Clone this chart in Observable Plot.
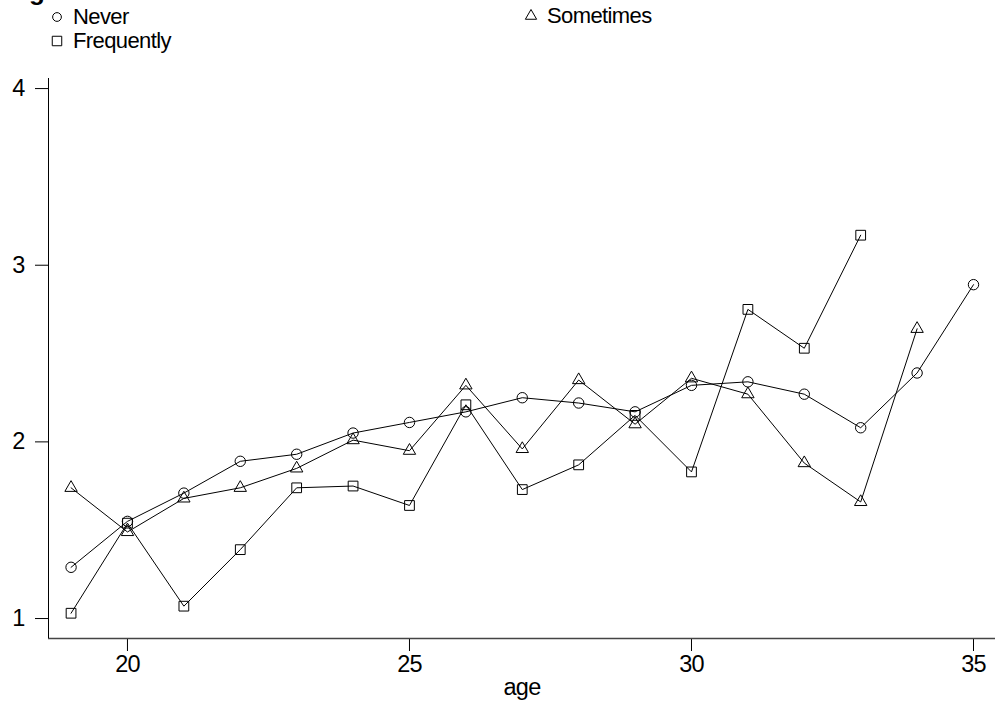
<!DOCTYPE html>
<html>
<head>
<meta charset="utf-8">
<script src="https://cdn.jsdelivr.net/npm/d3@7"></script>
<script src="https://cdn.jsdelivr.net/npm/@observablehq/plot@0.6"></script>
<style>
  html, body { margin: 0; padding: 0; background: #fff; overflow: hidden; }
  body { width: 995px; height: 706px; font-family: "Liberation Sans", Arial, sans-serif; }
  #head { position: relative; height: 50px; width: 995px; }
  #head .title { position: absolute; left: 29px; top: -22px; font-size: 26px; font-weight: bold; line-height: 26px; }
  #head .item { position: absolute; font-size: 22px; letter-spacing: -0.6px; line-height: 22px; color: #000; }
  #head svg.sym { position: absolute; }
  #chart svg text { letter-spacing: -0.8px; }
</style>
</head>
<body>
<div id="head"></div>
<div id="chart"></div>
<script>
const ages = [19,20,21,22,23,24,25,26,27,28,29,30,31,32,33,34,35];
const never = [1.29,1.55,1.71,1.89,1.93,2.05,2.11,2.17,2.25,2.22,2.17,2.32,2.34,2.27,2.08,2.39,2.89];
const sometimes = [1.74,1.49,1.68,1.74,1.85,2.01,1.95,2.32,1.96,2.35,2.10,2.36,2.27,1.88,1.66,2.64,null];
const frequently = [1.03,1.54,1.07,1.39,1.74,1.75,1.64,2.21,1.73,1.87,2.15,1.83,2.75,2.53,3.17,null,null];
const seriesNames = ["Never","Sometimes","Frequently"];
const seriesSymbols = ["circle","triangle","square"];
const xTicks = [20,25,30,35];
const yTicks = [1,2,3,4];

const data = [];
[never, sometimes, frequently].forEach((vals, i) => {
  vals.forEach((v, j) => { if (v != null) data.push({age: ages[j], value: v, group: seriesNames[i], sym: seriesSymbols[i]}); });
});
const symR = {circle: 5.2, triangle: 4.6, square: 5.5};

// legend (HTML above the SVG)
const head = document.getElementById("head");
head.innerHTML = '<div class="title">g</div>';
// symbol centre positions; text begins 16px to the right
const legendPos = [{x: 57, y: 17}, {x: 531, y: 16}, {x: 57, y: 41}];
seriesNames.forEach((name, i) => {
  const p = legendPos[i];
  const svg = d3.create("svg").attr("class","sym").attr("width",14).attr("height",14)
    .style("left", (p.x - 7) + "px").style("top", (p.y - 7) + "px");
  const sym = {circle: d3.symbolCircle, triangle: d3.symbolTriangle, square: d3.symbolSquare}[seriesSymbols[i]];
  svg.append("path").attr("transform","translate(7,7)")
    .attr("d", d3.symbol(sym, seriesSymbols[i] === "circle" ? 60 : seriesSymbols[i] === "square" ? 90 : 55)())
    .attr("fill","none").attr("stroke","#000").attr("stroke-width",1);
  head.appendChild(svg.node());
  const t = document.createElement("div");
  t.className = "item"; t.textContent = name;
  t.style.left = (p.x + 16) + "px"; t.style.top = (p.y - 11) + "px";
  head.appendChild(t);
});

const xMin = 18.6, yMin = 0.887;
const chart = Plot.plot({
  width: 995,
  height: 656,
  marginTop: 28,
  marginBottom: 68,
  marginLeft: 48,
  marginRight: 0,
  style: {fontFamily: "Liberation Sans, Arial, sans-serif", fontSize: "23.5px", color: "#000", background: "#fff"},
  x: {domain: [xMin, 35.39], ticks: xTicks, label: null},
  y: {domain: [yMin, 4.057], ticks: yTicks, label: null},
  marks: [
    Plot.axisX({ticks: xTicks, tickSize: 13, tickPadding: 4, fontSize: 23.5, tickFormat: d => String(d), label: null}),
    Plot.axisY({ticks: yTicks, tickSize: 13, tickPadding: 11, fontSize: 23.5, tickFormat: d => String(d), label: null}),
    Plot.text(["age"], {frameAnchor: "bottom", dy: 56, fontSize: 23.5, text: d => d}),
    Plot.ruleY([yMin], {stroke: "#444", strokeWidth: 1.5}),
    Plot.ruleX([xMin], {stroke: "#000", strokeWidth: 1}),
    Plot.line(data, {x: "age", y: "value", z: "group", stroke: "#000", strokeWidth: 1}),
    ...seriesSymbols.map(s => Plot.dot(data.filter(d => d.sym === s), {x: "age", y: "value", symbol: s, r: symR[s], stroke: "#000", fill: "none", strokeWidth: 1}))
  ]
});
document.getElementById("chart").appendChild(chart);
</script>
</body>
</html>
